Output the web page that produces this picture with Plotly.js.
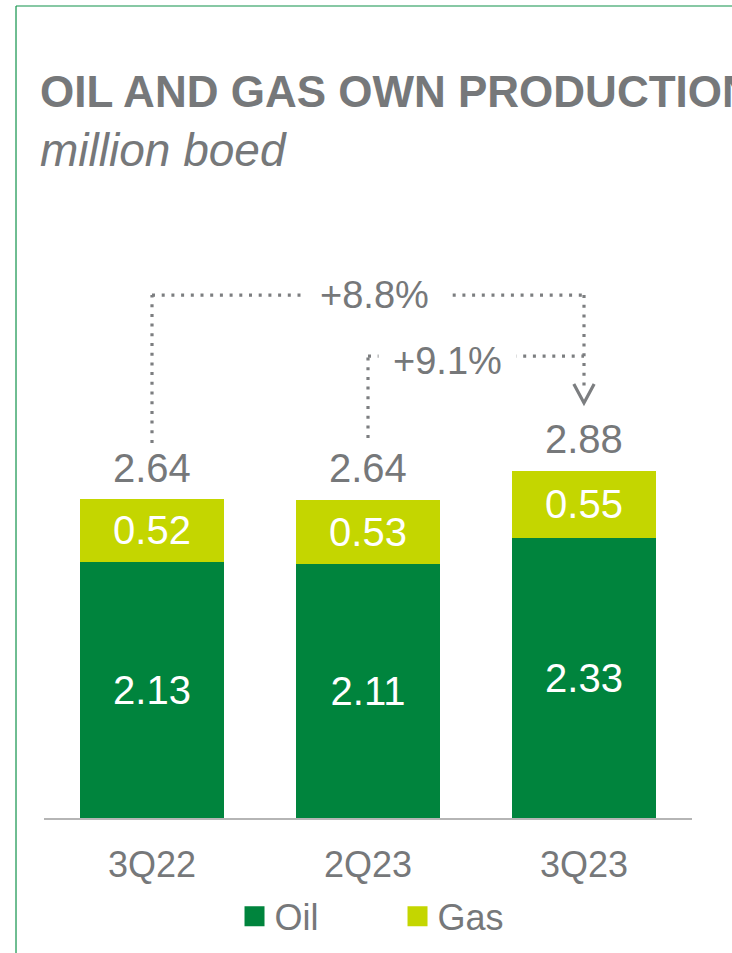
<!DOCTYPE html>
<html>
<head>
<meta charset="utf-8">
<script src="https://cdn.plot.ly/plotly-3.0.1.min.js"></script>
<style>
  html, body { margin: 0; padding: 0; background: #ffffff; }
  #chart { width: 732px; height: 953px; }
</style>
</head>
<body>
<div id="chart"></div>
<script>
// ---- data ----
var categories = ['3Q22', '2Q23', '3Q23'];
var oil = [2.13, 2.11, 2.33];
var gas = [0.52, 0.53, 0.55];
var totals = [2.64, 2.64, 2.88];
var changeVs3Q22 = '+8.8%';
var changeVs2Q23 = '+9.1%';
var seriesNames = ['Oil', 'Gas'];

// ---- style ----
var GREEN = '#00843d';
var LIME = '#c4d600';
var GREY = '#76787a';
var DOT = '#7c7e80';
var FONT = '"Liberation Sans", Arial, sans-serif';

function segment(name, values, color) {
  return {
    type: 'bar', name: name, x: categories, y: values, showlegend: false,
    marker: { color: color },
    text: values.map(function (v) { return v.toFixed(2); }),
    textposition: 'inside', insidetextanchor: 'middle', constraintext: 'none',
    textfont: { color: '#ffffff', size: 40, family: FONT },
    hoverinfo: 'skip'
  };
}
function legendKey(name, color) {
  return {
    type: 'scatter', mode: 'markers', name: name, x: [categories[0]], y: [null],
    marker: { symbol: 'square', size: 16, color: color, line: { color: color, width: 4 } },
    showlegend: true, hoverinfo: 'skip'
  };
}

var traces = [
  segment(seriesNames[0], oil, GREEN),
  segment(seriesNames[1], gas, LIME),
  legendKey(seriesNames[0], GREEN),
  legendKey(seriesNames[1], LIME)
];

var annotations = [];
// totals above bars
categories.forEach(function (c, i) {
  annotations.push({
    x: c, y: totals[i], xref: 'x', yref: 'y',
    text: totals[i].toFixed(2), showarrow: false,
    yanchor: 'bottom', yshift: 8,
    font: { size: 40, color: GREY, family: FONT }
  });
});

// connector geometry (axis units)
var top1 = 4.344, bot1 = 3.115, end1 = 3.56;
var top2 = 3.837, bot2 = 3.156;
var dotLine = { color: DOT, width: 3.2, dash: '3px,6.7px' };

var shapes = [
  { type: 'line', xref: 'x', yref: 'y', x0: 0, x1: 0, y0: bot1, y1: top1, line: dotLine },
  { type: 'line', xref: 'x', yref: 'y', x0: 0, x1: 2, y0: top1, y1: top1, line: dotLine },
  { type: 'line', xref: 'x', yref: 'y', x0: 2, x1: 2, y0: top1, y1: end1, line: dotLine },
  { type: 'line', xref: 'x', yref: 'y', x0: 1, x1: 1, y0: bot2, y1: top2, line: dotLine },
  { type: 'line', xref: 'x', yref: 'y', x0: 1, x1: 2, y0: top2, y1: top2, line: dotLine },
  // chevron arrow head at the end of the long connector
  { type: 'path', xref: 'paper', yref: 'paper',
    path: 'M 0.8176 0.6803 L 0.8333 0.6505 L 0.8490 0.6803',
    line: { color: DOT, width: 3.2 } },
  // green frame
  { type: 'line', xref: 'paper', yref: 'paper', x0: -0.0432, x1: -0.0432, y0: 1.2727, y1: -0.25,
    line: { color: '#10924a', width: 1.2 } },
  { type: 'line', xref: 'paper', yref: 'paper', x0: -0.0432, x1: 1.2, y0: 1.2727, y1: 1.2727,
    line: { color: '#10924a', width: 1.2 } }
];

annotations.push({
  x: 1.032, y: top1, xref: 'x', yref: 'y', text: changeVs3Q22, showarrow: false,
  bgcolor: '#ffffff', borderpad: 18, font: { size: 38, color: GREY, family: FONT }
});
annotations.push({
  x: 1.366, y: 3.80, xref: 'x', yref: 'y', text: changeVs2Q23, showarrow: false,
  bgcolor: '#ffffff', borderpad: 14, font: { size: 38, color: GREY, family: FONT }
});
// title and subtitle
annotations.push({
  x: -0.0093, y: 1.138, xref: 'paper', yref: 'paper', xanchor: 'left', yanchor: 'middle',
  text: '<b>OIL AND GAS OWN PRODUCTION</b>', showarrow: false,
  font: { size: 44, color: GREY, family: FONT }
});
annotations.push({
  x: -0.0093, y: 1.047, xref: 'paper', yref: 'paper', xanchor: 'left', yanchor: 'middle',
  text: '<i>million boed</i>', showarrow: false,
  font: { size: 46, color: GREY, family: FONT }
});

var layout = {
  width: 732, height: 953,
  margin: { l: 44, r: 40, t: 180, b: 135, autoexpand: false },
  paper_bgcolor: '#ffffff', plot_bgcolor: '#ffffff',
  barmode: 'stack', bargap: 0.3333,
  showlegend: true,
  legend: {
    orientation: 'h', x: 0.294, xanchor: 'left', y: -0.154, yanchor: 'middle',
    entrywidth: 118, entrywidthmode: 'pixels',
    font: { size: 36, color: GREY, family: FONT }, itemwidth: 30, traceorder: 'normal'
  },
  xaxis: {
    type: 'category', showgrid: false, zeroline: false, automargin: false,
    showline: true, linecolor: '#b5b5b5', linewidth: 2,
    ticks: '', ticklabelstandoff: 14,
    tickfont: { size: 36, color: GREY, family: FONT }
  },
  yaxis: {
    range: [0, 5.3], visible: false, showgrid: false, zeroline: false, fixedrange: true
  },
  shapes: shapes,
  annotations: annotations,
  hovermode: false
};

Plotly.newPlot('chart', traces, layout, { displayModeBar: false, staticPlot: true });
</script>
</body>
</html>
